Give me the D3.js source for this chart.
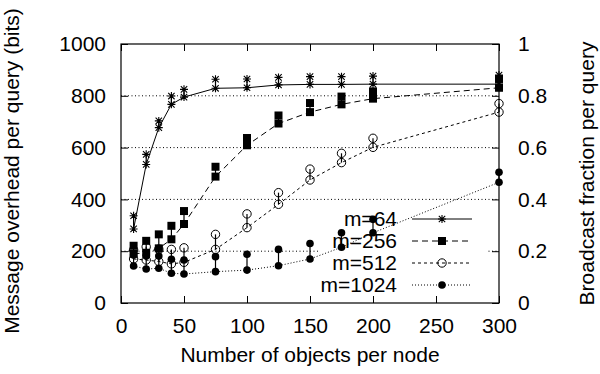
<!DOCTYPE html>
<html lang="en">
<head>
<meta charset="UTF-8">
<script src="https://cdnjs.cloudflare.com/ajax/libs/d3/7.8.5/d3.min.js"></script>
<title>Message overhead per query</title>
<style>
    body { margin: 0; background: #fff; }
    svg text { font-family: "Liberation Sans", Arial, sans-serif; font-size: 21px; fill: #000; }
</style>
</head>
<body>
<svg width="600" height="374"></svg>
<script>
    // objects per node
    const objects = [10, 20, 30, 40, 50, 75, 100, 125, 150, 175, 200, 300]

    // lower / upper value at each x
    const m64Low = [286, 535, 677, 767, 795, 829, 831, 842, 844, 844, 845, 845]
    const m64High = [337, 574, 703, 799, 825, 864, 865, 871, 874, 874, 876, 880]
    const m256Low = [190, 194, 211, 246, 305, 488, 609, 693, 737, 767, 789, 831]
    const m256High = [221, 240, 265, 298, 355, 526, 637, 724, 772, 797, 817, 865]
    const m512Low = [170, 166, 160, 151, 157, 207, 291, 381, 475, 542, 601, 737]
    const m512High = [205, 217, 208, 207, 213, 265, 344, 426, 517, 578, 636, 770]
    const m1024Low = [143, 131, 134, 115, 112, 121, 127, 144, 170, 215, 271, 466]
    const m1024High = [185, 181, 181, 169, 166, 179, 188, 207, 230, 271, 323, 505]

    const seriesNames = ["m=64", "m=256", "m=512", "m=1024"]
    const xTicks = [0, 50, 100, 150, 200, 250, 300]
    const yTicks = [0, 200, 400, 600, 800, 1000]
    const y2Ticks = [0, 0.2, 0.4, 0.6, 0.8, 1]
    const gridValues = [200, 400, 600, 800]

    const series = [
        { name: seriesNames[0], low: m64Low, high: m64High, dash: null, marker: "star" },
        { name: seriesNames[1], low: m256Low, high: m256High, dash: "6,4", marker: "square" },
        { name: seriesNames[2], low: m512Low, high: m512High, dash: "3,3", marker: "open" },
        { name: seriesNames[3], low: m1024Low, high: m1024High, dash: "1,2", marker: "dot" }
    ]

    const L = 121, R = 499, T = 44, B = 303

    const x = d3.scaleLinear().domain([0, 300]).range([L, R])
    const y = d3.scaleLinear().domain([0, 1000]).range([B, T])
    const y2 = d3.scaleLinear().domain([0, 1]).range([B, T])

    const svg = d3.select("svg")

    // grid
    svg.append("g")
        .selectAll("line")
        .data(gridValues)
        .enter()
        .append("line")
        .attr("x1", L).attr("x2", R)
        .attr("y1", d => y(d)).attr("y2", d => y(d))
        .style("stroke", "#000")
        .style("stroke-width", 1)
        .style("stroke-dasharray", "1,2.5")

    // key area hides grid
    svg.append("rect")
        .attr("x", 320).attr("y", 208)
        .attr("width", 168).attr("height", 88)
        .style("fill", "#fff")

    // axes
    svg.append("g")
        .attr("transform", `translate(0,${B})`)
        .call(d3.axisBottom(x).tickValues(xTicks).tickSize(-7).tickPadding(15))
    svg.append("g")
        .attr("transform", `translate(0,${T})`)
        .call(d3.axisTop(x).tickValues(xTicks).tickSize(-7).tickFormat(""))
    svg.append("g")
        .attr("transform", `translate(${L},0)`)
        .call(d3.axisLeft(y).tickValues(yTicks).tickSize(-7).tickPadding(15).tickFormat(d3.format("d")))
    svg.append("g")
        .attr("transform", `translate(${R},0)`)
        .call(d3.axisRight(y2).tickValues(y2Ticks).tickSize(-7).tickPadding(19).tickFormat(d3.format("~g")))

    svg.selectAll(".domain").remove()
    svg.selectAll(".tick line").style("stroke", "#000")
    svg.selectAll(".tick text")
        .style("font-size", "21px")
        .style("font-family", "'Liberation Sans', Arial, sans-serif")

    svg.append("rect")
        .attr("x", L).attr("y", T)
        .attr("width", R - L).attr("height", B - T)
        .style("fill", "none")
        .style("stroke", "#000")
        .style("stroke-width", 1.2)

    // axis titles
    svg.append("text")
        .attr("transform", `translate(19,171) rotate(-90)`)
        .style("text-anchor", "middle")
        .text("Message overhead per query (bits)")
    svg.append("text")
        .attr("transform", `translate(594,${(T + B) / 2}) rotate(-90)`)
        .style("text-anchor", "middle")
        .text("Broadcast fraction per query")
    svg.append("text")
        .attr("x", (L + R) / 2).attr("y", 362)
        .style("text-anchor", "middle")
        .text("Number of objects per node")

    function drawMarker(g, type) {
        if (type === "star") {
            g.append("path")
                .attr("d", "M-4,0H4M0,-4V4M-3.2,-3.2L3.2,3.2M-3.2,3.2L3.2,-3.2")
                .style("stroke", "#000").style("stroke-width", 1.1).style("fill", "none")
        } else if (type === "square") {
            g.append("rect").attr("x", -4).attr("y", -4).attr("width", 8).attr("height", 8)
                .style("fill", "#000")
        } else if (type === "open") {
            g.append("circle").attr("r", 4.2)
                .style("fill", "none").style("stroke", "#000").style("stroke-width", 1)
        } else {
            g.append("circle").attr("r", 3.8).style("fill", "#000")
        }
    }

    const line = d3.line().x(d => x(d.x)).y(d => y(d.v))

    series.forEach(s => {
        const lows = objects.map((o, i) => ({ x: o, v: s.low[i] }))
        const g = svg.append("g")

        g.append("path")
            .datum(lows)
            .attr("d", line)
            .style("fill", "none")
            .style("stroke", "#000")
            .style("stroke-width", 1)
            .style("stroke-dasharray", s.dash)

        g.selectAll("line.bar")
            .data(objects)
            .enter()
            .append("line")
            .attr("class", "bar")
            .attr("x1", d => x(d)).attr("x2", d => x(d))
            .attr("y1", (d, i) => y(s.low[i])).attr("y2", (d, i) => y(s.high[i]))
            .style("stroke", "#000")
            .style("stroke-width", 1.2)

        const pts = objects.flatMap((o, i) => [{ x: o, v: s.low[i] }, { x: o, v: s.high[i] }])
        g.selectAll("g.pt")
            .data(pts)
            .enter()
            .append("g")
            .attr("class", "pt")
            .attr("transform", d => `translate(${x(d.x)},${y(d.v)})`)
            .each(function () { drawMarker(d3.select(this), s.marker) })
    })

    // key
    const key = svg.append("g")
    series.forEach((s, i) => {
        const ky = 219 + i * 22
        key.append("text")
            .attr("x", 397).attr("y", ky)
            .attr("dy", "0.35em")
            .style("text-anchor", "end")
            .text(s.name)
        key.append("line")
            .attr("x1", 412).attr("x2", 472)
            .attr("y1", ky).attr("y2", ky)
            .style("stroke", "#000")
            .style("stroke-width", 1)
            .style("stroke-dasharray", s.dash)
        drawMarker(key.append("g").attr("transform", `translate(442,${ky})`), s.marker)
    })
</script>
</body>
</html>
